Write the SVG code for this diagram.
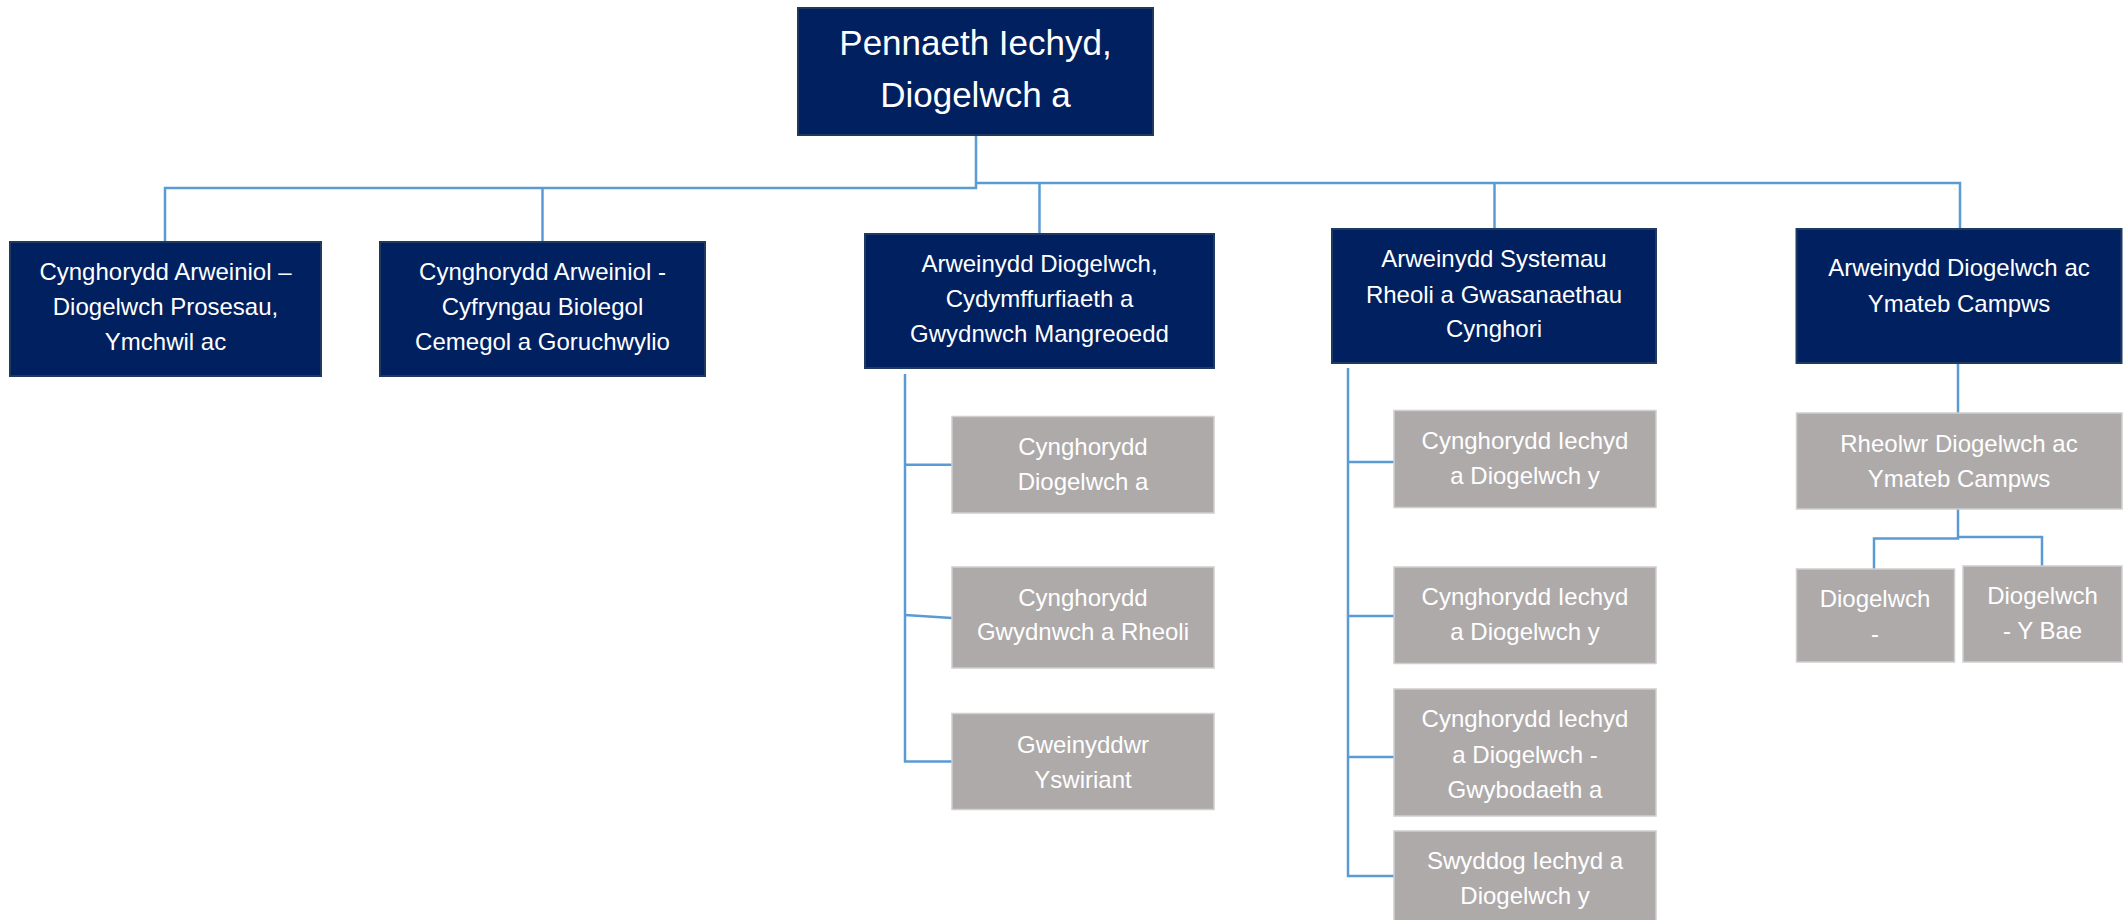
<svg xmlns="http://www.w3.org/2000/svg" width="2127" height="920" viewBox="0 0 2127 920">
<style>
.nv{fill:#002060;stroke:#1F3A5F;stroke-width:2}
.gr{fill:#AEAAAA;stroke:#D0CECE;stroke-width:1.5}
.t{font-family:"Liberation Sans",Arial,sans-serif;font-size:24px;fill:#FFFFFF;text-anchor:middle}
.tb{font-size:35px}
.c{fill:none;stroke:#5B9BD5;stroke-width:2.5}
</style>
<rect width="2127" height="920" fill="#FFFFFF"/>
<g id="connectors">
<path class="c" d="M976 135 V188 H165 V242"/>
<path class="c" d="M542.5 188 V242"/>
<path class="c" d="M976 183 H1960 V229"/>
<path class="c" d="M1039.5 183 V234"/>
<path class="c" d="M1494.5 183 V229"/>
<path class="c" d="M905 374 V761.5 H952"/>
<path class="c" d="M905 464.7 H952"/>
<path class="c" d="M905 615 L952 618"/>
<path class="c" d="M1348 368 V876 H1394"/>
<path class="c" d="M1348 462 H1394"/>
<path class="c" d="M1348 616 H1394"/>
<path class="c" d="M1348 757 H1394"/>
<path class="c" d="M1958 363 V413"/>
<path class="c" d="M1958 509 V538.5 H1874 V569"/>
<path class="c" d="M1958 537 H2042 V566"/>
</g>
<g id="n-head">
<rect class="nv" x="798" y="8" width="355" height="127"/>
<text class="t tb" x="975.5" y="55">Pennaeth Iechyd,</text>
<text class="t tb" x="975.5" y="107">Diogelwch a</text>
</g>
<g id="n-lead1">
<rect class="nv" x="10" y="242" width="311" height="134"/>
<text class="t" x="165.5" y="280">Cynghorydd Arweiniol –</text>
<text class="t" x="165.5" y="315">Diogelwch Prosesau,</text>
<text class="t" x="165.5" y="350">Ymchwil ac</text>
</g>
<g id="n-lead2">
<rect class="nv" x="380" y="242" width="325" height="134"/>
<text class="t" x="542.5" y="280">Cynghorydd Arweiniol -</text>
<text class="t" x="542.5" y="315">Cyfryngau Biolegol</text>
<text class="t" x="542.5" y="350">Cemegol a Goruchwylio</text>
</g>
<g id="n-lead3">
<rect class="nv" x="865" y="234" width="349" height="134"/>
<text class="t" x="1039.5" y="272">Arweinydd Diogelwch,</text>
<text class="t" x="1039.5" y="307">Cydymffurfiaeth a</text>
<text class="t" x="1039.5" y="342">Gwydnwch Mangreoedd</text>
</g>
<g id="n-lead4">
<rect class="nv" x="1332" y="229" width="324" height="134"/>
<text class="t" x="1494" y="267">Arweinydd Systemau</text>
<text class="t" x="1494" y="303">Rheoli a Gwasanaethau</text>
<text class="t" x="1494" y="337">Cynghori</text>
</g>
<g id="n-lead5">
<rect class="nv" x="1796.5" y="229" width="325" height="134"/>
<text class="t" x="1959" y="276">Arweinydd Diogelwch ac</text>
<text class="t" x="1959" y="312">Ymateb Campws</text>
</g>
<g id="n-a">
<rect class="gr" x="952" y="416.5" width="262" height="96.5"/>
<text class="t" x="1083" y="455">Cynghorydd</text>
<text class="t" x="1083" y="490">Diogelwch a</text>
</g>
<g id="n-b">
<rect class="gr" x="952" y="567" width="262" height="101"/>
<text class="t" x="1083" y="606">Cynghorydd</text>
<text class="t" x="1083" y="640">Gwydnwch a Rheoli</text>
</g>
<g id="n-c">
<rect class="gr" x="952" y="713.5" width="262" height="96"/>
<text class="t" x="1083" y="753">Gweinyddwr</text>
<text class="t" x="1083" y="788">Yswiriant</text>
</g>
<g id="n-d">
<rect class="gr" x="1394" y="410.5" width="262" height="97"/>
<text class="t" x="1525" y="449">Cynghorydd Iechyd</text>
<text class="t" x="1525" y="484">a Diogelwch y</text>
</g>
<g id="n-e">
<rect class="gr" x="1394" y="567" width="262" height="96.5"/>
<text class="t" x="1525" y="605">Cynghorydd Iechyd</text>
<text class="t" x="1525" y="640">a Diogelwch y</text>
</g>
<g id="n-f">
<rect class="gr" x="1394" y="689" width="262" height="127"/>
<text class="t" x="1525" y="727">Cynghorydd Iechyd</text>
<text class="t" x="1525" y="763">a Diogelwch -</text>
<text class="t" x="1525" y="798">Gwybodaeth a</text>
</g>
<g id="n-g">
<rect class="gr" x="1394" y="831" width="262" height="100"/>
<text class="t" x="1525" y="869">Swyddog Iechyd a</text>
<text class="t" x="1525" y="904">Diogelwch y</text>
</g>
<g id="n-h">
<rect class="gr" x="1796.5" y="413" width="325.5" height="96"/>
<text class="t" x="1959" y="452">Rheolwr Diogelwch ac</text>
<text class="t" x="1959" y="487">Ymateb Campws</text>
</g>
<g id="n-i">
<rect class="gr" x="1796.5" y="569" width="158" height="93"/>
<text class="t" x="1875" y="607">Diogelwch</text>
<text class="t" x="1875" y="642">-</text>
</g>
<g id="n-j">
<rect class="gr" x="1963" y="566" width="159" height="96"/>
<text class="t" x="2042.5" y="604">Diogelwch</text>
<text class="t" x="2042.5" y="639">- Y Bae</text>
</g>
</svg>
